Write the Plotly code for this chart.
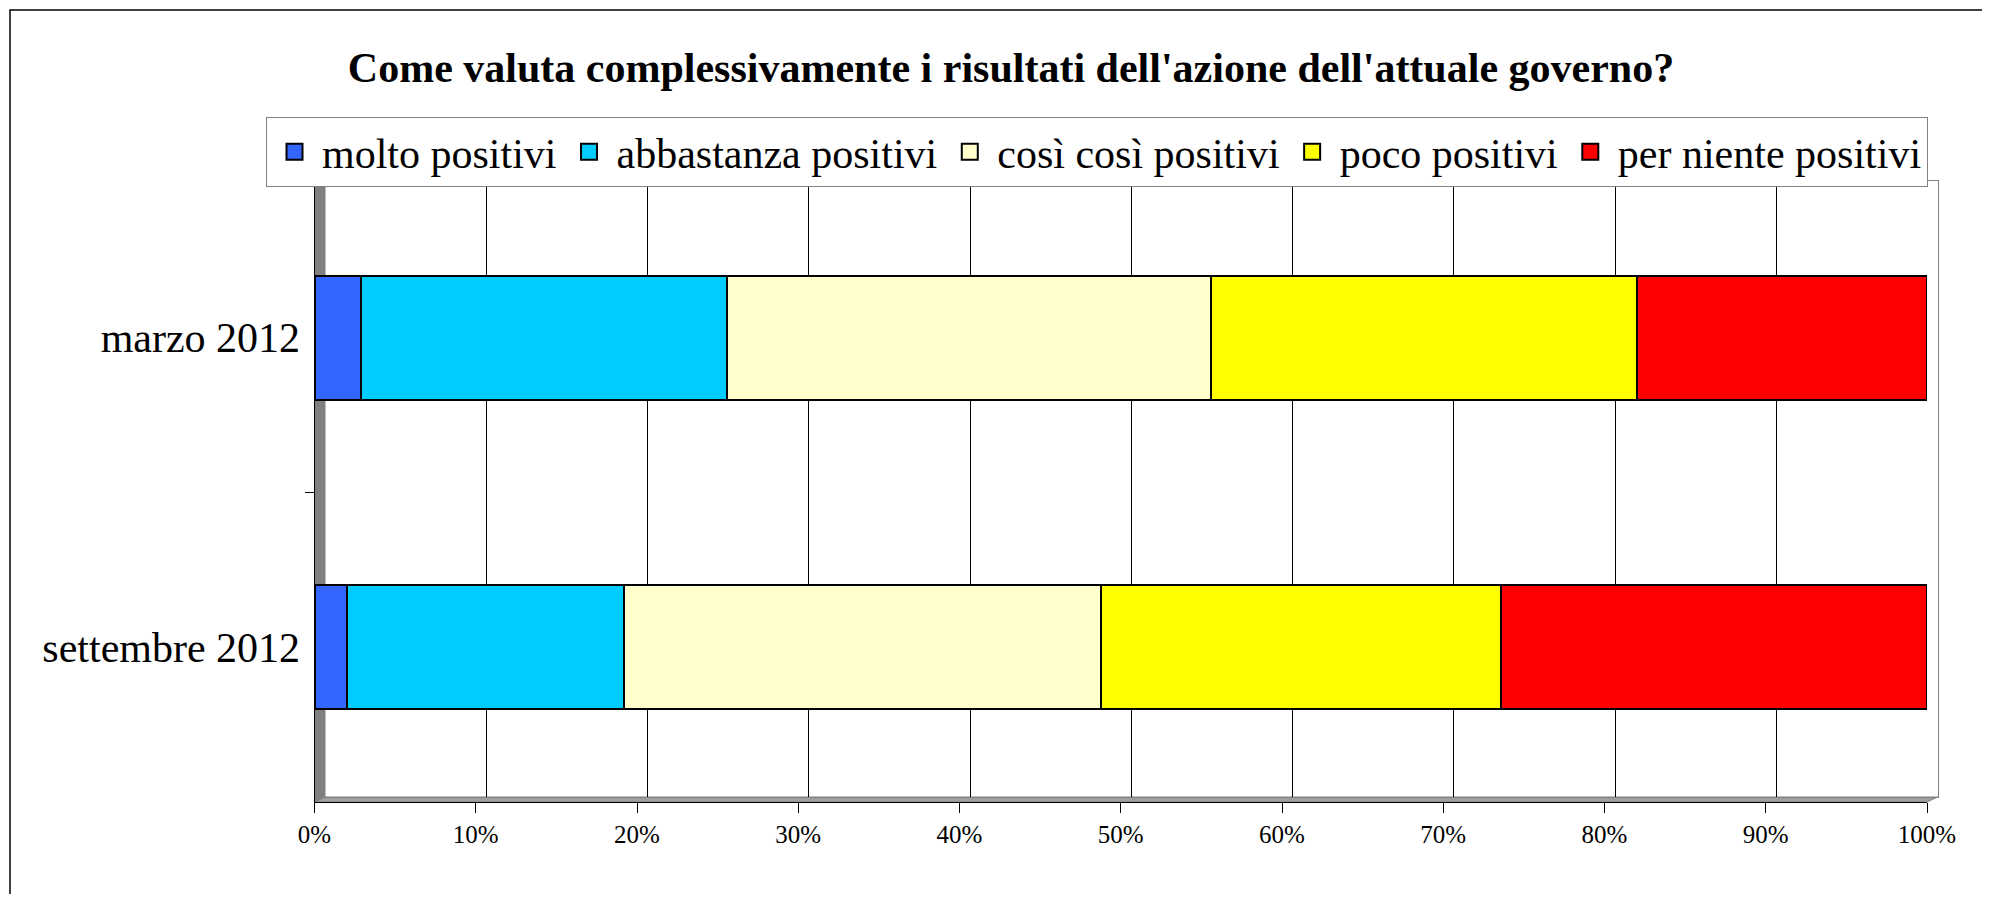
import plotly.graph_objects as go

# data (percent of respondents)
periods = ["marzo 2012", "settembre 2012"]
series_names = ["molto positivi", "abbastanza positivi", "così così positivi",
                "poco positivi", "per niente positivi"]
molto = [2.9, 2.0]
abbastanza = [22.7, 17.2]
cosi_cosi = [30.0, 29.6]
poco = [26.4, 24.8]
per_niente = [18.0, 26.4]
series_values = [molto, abbastanza, cosi_cosi, poco, per_niente]
colors = ["#3366FF", "#00CCFF", "#FFFFCC", "#FFFF00", "#FF0000"]

title = "Come valuta complessivamente i risultati dell'azione dell'attuale governo?"

# page is 1990x902, body keeps its 8px margin -> figure a bit smaller
OFF = 8
W, H = 1990 - 2 * OFF, 902 - 2 * OFF
FONT = "Liberation Serif, Times New Roman, serif"


def px(x):
    return (x - OFF) / W


def py(y):
    return 1 - (y - OFF) / H


fig = go.Figure()
for name, vals, col in zip(series_names, series_values, colors):
    fig.add_trace(go.Bar(
        y=periods, x=vals, name=name, orientation="h",
        xaxis="x2", yaxis="y2", showlegend=False,
        marker=dict(color=col, line=dict(color="black", width=2)),
    ))
# legend entries with bigger square swatches
for name, col in zip(series_names, colors):
    fig.add_trace(go.Scatter(
        x=[None], y=[None], name=name, mode="markers",
        marker=dict(symbol="square", size=26, color=col,
                    line=dict(color="black", width=2)),
    ))

fig.update_layout(
    width=W, height=H,
    margin=dict(l=0, r=0, t=0, b=0, autoexpand=False),
    paper_bgcolor="white",
    plot_bgcolor="rgba(0,0,0,0)",
    barmode="stack",
    barnorm="percent",
    bargap=0.6,
    font=dict(family=FONT, color="black"),
    title=dict(text="<b>" + title + "</b>", x=px(1011), xanchor="center",
               y=py(67), yanchor="middle",
               font=dict(family=FONT, size=42, color="black")),
    legend=dict(orientation="h", x=px(266), y=py(117), xanchor="left", yanchor="top",
                bordercolor="#808080", borderwidth=1, bgcolor="white",
                font=dict(family=FONT, size=42, color="black"),
                itemwidth=45, itemsizing="trace", traceorder="normal"),
    # back wall (gridlines), shifted for the 3D look
    xaxis=dict(domain=[px(325), px(1937.5)], range=[0, 100], dtick=10,
               showgrid=True, gridcolor="black", gridwidth=1,
               showticklabels=False, ticks="", zeroline=False,
               showline=True, mirror=True, linecolor="#808080", fixedrange=True),
    yaxis=dict(domain=[py(797), py(181)], range=[0, 1], showgrid=False,
               showticklabels=False, ticks="", zeroline=False,
               showline=True, mirror=True, linecolor="#808080", fixedrange=True),
    # front axes carrying the bars
    xaxis2=dict(domain=[px(314.5), px(1927)], anchor="y2", range=[0, 100], dtick=10,
                ticksuffix="%", ticks="outside", ticklen=10, tickcolor="black",
                showline=True, linecolor="black", showgrid=False, zeroline=False,
                tickfont=dict(family=FONT, size=25, color="black")),
    yaxis2=dict(domain=[py(802), py(183)], anchor="x2", type="category",
                categoryorder="array", categoryarray=periods, range=[1.5, -0.5],
                ticks="outside", tickson="boundaries", ticklen=9, tickcolor="black",
                showline=True, linecolor="black", showgrid=False,
                ticklabelstandoff=5,
                tickfont=dict(family=FONT, size=42, color="black")),
)

# 3D side wall and floor
left_wall = "M {},{} L {},{} L {},{} L {},{} Z".format(
    px(314.5), py(802), px(325), py(797), px(325), py(181), px(314.5), py(186))
floor = "M {},{} L {},{} L {},{} L {},{} Z".format(
    px(314.5), py(802), px(325), py(797), px(1937.5), py(797), px(1927), py(802))
fig.add_shape(type="path", path=left_wall, xref="paper", yref="paper",
              fillcolor="#808080", line=dict(color="#808080", width=1), layer="below")
fig.add_shape(type="path", path=floor, xref="paper", yref="paper",
              fillcolor="#A0A0A0", line=dict(color="#808080", width=1), layer="below")
# outer chart border
fig.add_shape(type="rect", xref="paper", yref="paper",
              x0=px(10), y0=py(10), x1=px(2200), y1=py(1100),
              line=dict(color="black", width=1.5), fillcolor="rgba(0,0,0,0)")

fig.write_html("out.html")
